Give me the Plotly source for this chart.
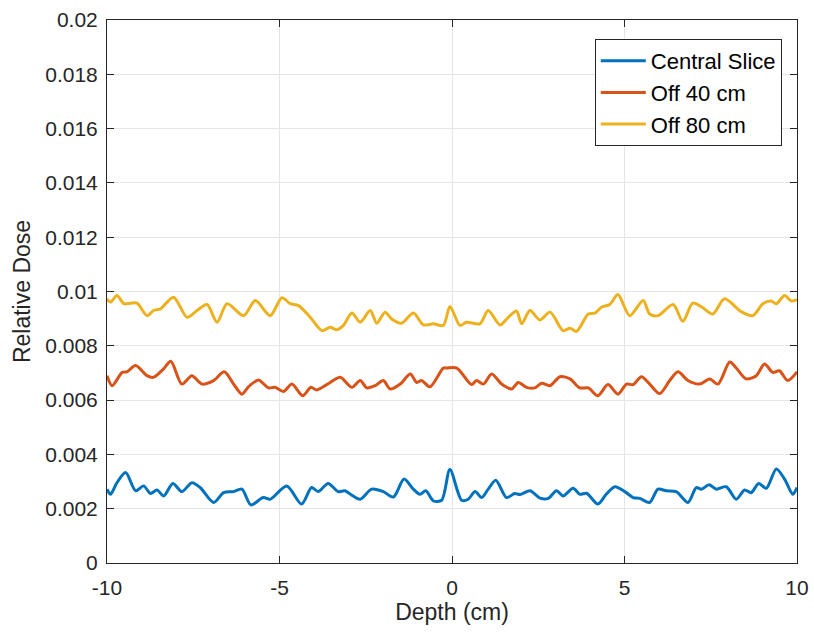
import plotly.graph_objects as go

# Central Slice
depth_c = [-10.0, -9.90, -9.71, -9.46, -9.17, -8.94, -8.74, -8.55, -8.36, -8.09, -7.83, -7.54, -7.30,
           -6.91, -6.62, -6.33, -6.09, -5.83, -5.47, -5.27, -4.79, -4.36, -4.07, -3.88, -3.59, -3.30,
           -3.11, -2.87, -2.66, -2.33, -1.99, -1.70, -1.39, -1.12, -0.93, -0.76, -0.54, -0.30, -0.06,
           0.28, 0.47, 0.67, 0.86, 1.05, 1.27, 1.58, 1.82, 1.97, 2.26, 2.55, 2.79, 3.03, 3.22, 3.51,
           3.71, 3.90, 4.23, 4.47, 4.72, 5.01, 5.25, 5.44, 5.73, 5.97, 6.21, 6.50, 6.84, 7.08, 7.23,
           7.45, 7.66, 7.95, 8.24, 8.48, 8.67, 8.89, 9.11, 9.40, 9.64, 9.88, 10.0]
dose_c = [0.00272, 0.00253, 0.00296, 0.00333, 0.00266, 0.00284, 0.00256, 0.00269, 0.00247, 0.00293,
          0.00263, 0.00296, 0.00278, 0.00223, 0.00259, 0.00263, 0.00272, 0.00214, 0.00241, 0.00235,
          0.00284, 0.00217, 0.00278, 0.00263, 0.00293, 0.00263, 0.00266, 0.00247, 0.00235, 0.00272,
          0.00263, 0.00243, 0.00309, 0.00272, 0.00253, 0.00266, 0.00229, 0.00231, 0.00344, 0.00231,
          0.00235, 0.00263, 0.00241, 0.00272, 0.00305, 0.00241, 0.00256, 0.00252, 0.00266, 0.00239,
          0.00238, 0.00266, 0.00247, 0.00275, 0.00253, 0.00257, 0.00217, 0.00253, 0.00281, 0.00263,
          0.00241, 0.00238, 0.00223, 0.00272, 0.00266, 0.00263, 0.00223, 0.00278, 0.00272, 0.00288,
          0.00272, 0.00281, 0.00235, 0.00269, 0.00259, 0.00293, 0.00275, 0.00346, 0.00309, 0.00253,
          0.00278]

# Off 40 cm
depth_40 = [-10.0, -9.85, -9.56, -9.42, -9.17, -8.84, -8.65, -8.36, -8.15, -7.83, -7.54, -7.25, -6.91,
            -6.60, -6.33, -6.09, -5.90, -5.61, -5.32, -5.13, -4.88, -4.64, -4.33, -4.09, -3.92, -3.53,
            -3.24, -2.90, -2.66, -2.47, -2.23, -1.99, -1.79, -1.50, -1.21, -1.02, -0.88, -0.64, -0.25,
            -0.15, 0.14, 0.57, 0.71, 0.91, 1.15, 1.44, 1.73, 1.92, 2.16, 2.40, 2.60, 2.84, 3.13, 3.42,
            3.70, 3.95, 4.23, 4.52, 4.81, 5.06, 5.25, 5.49, 5.73, 6.02, 6.31, 6.55, 6.84, 7.18, 7.47,
            7.71, 8.05, 8.24, 8.53, 8.82, 9.06, 9.30, 9.49, 9.73, 10.0]
dose_40 = [0.00690, 0.00653, 0.00702, 0.00704, 0.00727, 0.00690, 0.00684, 0.00715, 0.00743, 0.00659,
           0.00690, 0.00659, 0.00672, 0.00704, 0.00659, 0.00622, 0.00649, 0.00674, 0.00645, 0.00647,
           0.00632, 0.00659, 0.00616, 0.00647, 0.00637, 0.00665, 0.00684, 0.00647, 0.00672, 0.00645,
           0.00653, 0.00672, 0.00641, 0.00659, 0.00696, 0.00665, 0.00672, 0.00649, 0.00718, 0.00718,
           0.00718, 0.00657, 0.00672, 0.00659, 0.00696, 0.00659, 0.00641, 0.00665, 0.00647, 0.00645,
           0.00662, 0.00653, 0.00686, 0.00678, 0.00645, 0.00645, 0.00616, 0.00657, 0.00622, 0.00659,
           0.00657, 0.00686, 0.00659, 0.00624, 0.00672, 0.00704, 0.00672, 0.00659, 0.00678, 0.00659,
           0.00740, 0.00718, 0.00678, 0.00690, 0.00733, 0.00702, 0.00708, 0.00672, 0.00704]

# Off 80 cm
depth_80 = [-10.0, -9.90, -9.71, -9.51, -9.32, -9.13, -8.84, -8.65, -8.45, -8.07, -7.68, -7.39, -7.10,
            -6.81, -6.52, -6.04, -5.70, -5.27, -4.93, -4.69, -4.45, -4.11, -3.77, -3.53, -3.34, -3.15,
            -2.90, -2.66, -2.37, -2.18, -1.94, -1.75, -1.46, -1.12, -0.83, -0.54, -0.25, -0.06, 0.23,
            0.42, 0.81, 1.05, 1.39, 1.63, 1.87, 2.02, 2.26, 2.55, 2.84, 3.22, 3.42, 3.61, 3.95, 4.14,
            4.33, 4.57, 4.81, 5.15, 5.54, 5.73, 5.97, 6.41, 6.69, 6.98, 7.27, 7.56, 7.90, 8.38, 8.72,
            9.01, 9.25, 9.40, 9.64, 9.83, 10.0]
dose_80 = [0.00973, 0.00961, 0.00985, 0.00955, 0.00957, 0.00957, 0.00911, 0.00930, 0.00936, 0.00979,
           0.00905, 0.00930, 0.00952, 0.00887, 0.00955, 0.00911, 0.00967, 0.00911, 0.00977, 0.00955,
           0.00948, 0.00905, 0.00856, 0.00868, 0.00859, 0.00875, 0.00921, 0.00887, 0.00930, 0.00883,
           0.00924, 0.00899, 0.00883, 0.00921, 0.00877, 0.00881, 0.00875, 0.00945, 0.00875, 0.00887,
           0.00881, 0.00930, 0.00877, 0.00905, 0.00928, 0.00881, 0.00930, 0.00895, 0.00924, 0.00856,
           0.00865, 0.00853, 0.00917, 0.00920, 0.00942, 0.00952, 0.00989, 0.00911, 0.00967, 0.00917,
           0.00911, 0.00952, 0.00890, 0.00957, 0.00940, 0.00917, 0.00973, 0.00926, 0.00911, 0.00955,
           0.00965, 0.00955, 0.00985, 0.00965, 0.00970]

series_names = ["Central Slice", "Off 40 cm", "Off 80 cm"]
colors = ["#0072BD", "#D95319", "#EDB120"]

y_ticks = [0, 0.002, 0.004, 0.006, 0.008, 0.01, 0.012, 0.014, 0.016, 0.018, 0.02]
y_tick_text = ["0", "0.002", "0.004", "0.006", "0.008", "0.01", "0.012", "0.014", "0.016", "0.018", "0.02"]
x_ticks = [-10, -5, 0, 5, 10]
x_tick_text = ["-10", "-5", "0", "5", "10"]

fig = go.Figure()
for name, xs, ys, col in zip(series_names, [depth_c, depth_40, depth_80],
                             [dose_c, dose_40, dose_80], colors):
    fig.add_trace(go.Scatter(x=xs, y=ys, mode="lines", name=name,
                             line=dict(color=col, width=3, shape="spline", smoothing=0.8)))

axis_common = dict(showline=True, linecolor="#262626", linewidth=1, mirror="ticks",
                   ticks="inside", ticklen=7, tickcolor="#262626",
                   showgrid=True, gridcolor="#e5e5e5", gridwidth=1, zeroline=False,
                   automargin=False,
                   tickfont=dict(size=21, color="#262626"))

fig.update_layout(
    width=814, height=632,
    margin=dict(l=107, r=17, t=20, b=69),
    paper_bgcolor="white", plot_bgcolor="white",
    font=dict(family="Liberation Sans, Arial, sans-serif", color="#262626"),
    xaxis=dict(range=[-10, 10], tickvals=x_ticks, ticktext=x_tick_text, ticklabelstandoff=6,
               title=dict(text="Depth (cm)", font=dict(size=23), standoff=2), **axis_common),
    yaxis=dict(range=[0, 0.02], tickvals=y_ticks, ticktext=y_tick_text, ticklabelstandoff=4,
               title=dict(text="Relative Dose", font=dict(size=23), standoff=8), **axis_common),
    legend=dict(x=0.978, y=0.965, xanchor="right", yanchor="top",
                bgcolor="white", bordercolor="#262626", borderwidth=1,
                font=dict(size=22, color="#000000"), tracegroupgap=0, itemwidth=45),
    showlegend=True,
)

fig.write_html("out.html")
